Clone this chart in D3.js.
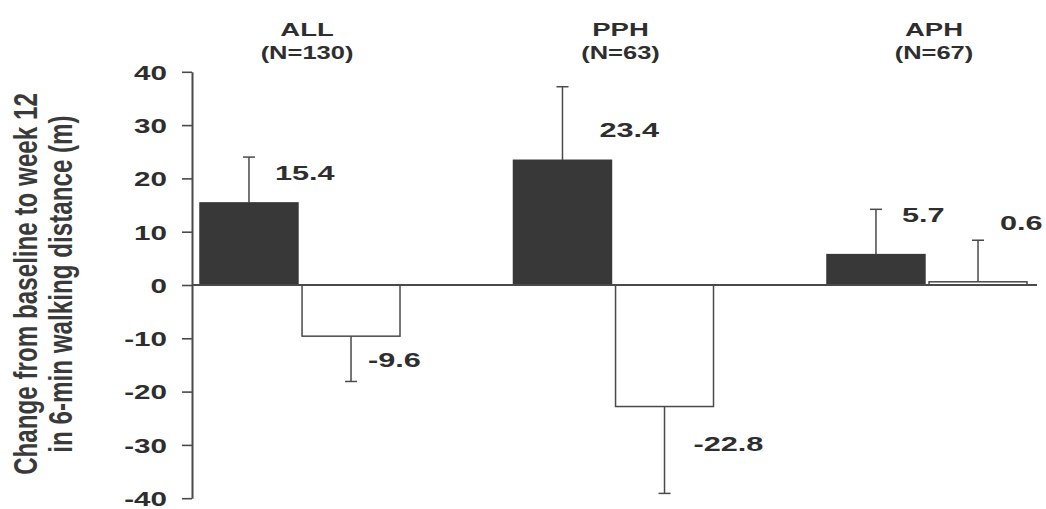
<!DOCTYPE html>
<html>
<head>
<meta charset="utf-8">
<script src="https://cdn.jsdelivr.net/npm/d3@7"></script>
<style>
  body { margin: 0; background: #fff; }
  svg { display: block; font-family: "Liberation Sans", Arial, sans-serif; }
</style>
</head>
<body>
<div id="chart"></div>
<script>
// data
const groups = ['ALL', 'PPH', 'APH'];
const groupN = ['(N=130)', '(N=63)', '(N=67)'];
const series = ['drug', 'placebo'];
const drugValues = [15.4, 23.4, 5.7];
const placeboValues = [-9.6, -22.8, 0.6];
const drugErr = [8.6, 13.8, 8.5];
const placeboErr = [8.5, 16.3, 7.8];
const yTicks = [-40, -30, -20, -10, 0, 10, 20, 30, 40];

// label nudges in px (dx from bar centre, dy from bar end)
const labelNudge = {
    drug: [[26, -23], [37, -23], [26, -33]],
    placebo: [[17, 31], [29, 44], [22, -52]]
};

const width = 1046;
const height = 509;
const axisX = 192;
const ink = '#2e2e2e';
const lineCol = '#4a4a4a';
const barFill = '#383838';
// the scan is stretched sideways, so horizontal text is widened
const stretch = 1.43;

const rows = [];
groups.forEach((g, i) => {
    rows.push({ group: g, key: 'drug', value: drugValues[i], err: drugErr[i], nudge: labelNudge.drug[i] });
    rows.push({ group: g, key: 'placebo', value: placeboValues[i], err: placeboErr[i], nudge: labelNudge.placebo[i] });
});

const y = d3.scaleLinear()
    .domain([-40, 40])
    .range([498.2, 71.8]);

const x0 = d3.scaleBand()
    .domain(groups)
    .range([200, 1027])
    .paddingInner(0.362)
    .paddingOuter(0);

const x1 = d3.scaleBand()
    .domain(series)
    .range([0, x0.bandwidth()])
    .paddingInner(0.04);

const svg = d3.select('#chart')
    .append('svg')
    .attr('width', width)
    .attr('height', height);

svg.append('rect')
    .attr('width', width)
    .attr('height', height)
    .attr('fill', '#fff');

// y axis
const yAxis = svg.append('g')
    .attr('transform', `translate(${axisX},0)`)
    .call(d3.axisLeft(y).tickValues(yTicks).tickSize(10).tickSizeOuter(0).tickFormat(d => String(d)));

yAxis.select('.domain').attr('stroke', lineCol).attr('stroke-width', 2);
yAxis.selectAll('.tick line').attr('stroke', lineCol).attr('stroke-width', 1.6);
yAxis.selectAll('.tick text')
    .attr('x', 0)
    .attr('dy', '0.35em')
    .attr('transform', `translate(-25,0) scale(${stretch - 0.02},1)`)
    .attr('fill', ink)
    .attr('font-size', 21)
    .attr('font-weight', 700)
    .attr('font-family', '"Liberation Sans", Arial, sans-serif');

// axis title (two lines, rotated)
const title = svg.append('g')
    .attr('transform', `translate(37,${y(0) - 1}) scale(1.35,1) rotate(-90)`);

title.selectAll('text')
    .data(['Change from baseline to week 12', 'in 6-min walking distance (m)'])
    .join('text')
    .attr('x', 0)
    .attr('y', (d, i) => i * 26)
    .attr('text-anchor', 'middle')
    .attr('font-size', 24.2)
    .attr('font-weight', 700)
    .attr('fill', '#3a3a3a')
    .text(d => d);

// bars
const barX = d => x0(d.group) + x1(d.key);
const barCx = d => barX(d) + x1.bandwidth() / 2;

svg.append('g')
    .selectAll('rect')
    .data(rows)
    .join('rect')
    .attr('x', barX)
    .attr('width', x1.bandwidth())
    .attr('y', d => y(Math.max(0, d.value)))
    .attr('height', d => Math.abs(y(d.value) - y(0)))
    .attr('fill', d => d.key === 'drug' ? barFill : '#fff')
    .attr('stroke', d => d.key === 'drug' ? barFill : lineCol)
    .attr('stroke-width', 1.5);

// zero line
svg.append('line')
    .attr('x1', axisX)
    .attr('x2', 1037)
    .attr('y1', y(0))
    .attr('y2', y(0))
    .attr('stroke', lineCol)
    .attr('stroke-width', 1.8);

// error bars
const errEnd = d => d.value >= 0 ? d.value + d.err : d.value - d.err;
const err = svg.append('g')
    .attr('stroke', lineCol)
    .attr('stroke-width', 1.5)
    .selectAll('g')
    .data(rows)
    .join('g');

err.append('line')
    .attr('x1', barCx)
    .attr('x2', barCx)
    .attr('y1', d => y(d.value))
    .attr('y2', d => y(errEnd(d)));

err.append('line')
    .attr('x1', d => barCx(d) - 6)
    .attr('x2', d => barCx(d) + 6)
    .attr('y1', d => y(errEnd(d)))
    .attr('y2', d => y(errEnd(d)));

// value labels
svg.append('g')
    .selectAll('text')
    .data(rows)
    .join('text')
    .attr('transform', d => `translate(${barCx(d) + d.nudge[0]},${y(d.value) + d.nudge[1]}) scale(${stretch + 0.03},1)`)
    .attr('font-size', 21)
    .attr('font-weight', 700)
    .attr('fill', ink)
    .text(d => d.value.toFixed(1));

// group headers
const head = svg.append('g')
    .selectAll('g')
    .data(groups)
    .join('g')
    .attr('transform', d => `translate(${x0(d) + x0.bandwidth() / 2 + 7},0)`);

head.append('text')
    .attr('transform', `translate(0,36) scale(1.48,1)`)
    .attr('text-anchor', 'middle')
    .attr('font-size', 18.6)
    .attr('font-weight', 700)
    .attr('fill', ink)
    .text(d => d);

head.append('text')
    .attr('transform', `translate(0,59) scale(1.37,1)`)
    .attr('text-anchor', 'middle')
    .attr('font-size', 18.6)
    .attr('font-weight', 700)
    .attr('fill', ink)
    .text((d, i) => groupN[i]);
</script>
</body>
</html>
